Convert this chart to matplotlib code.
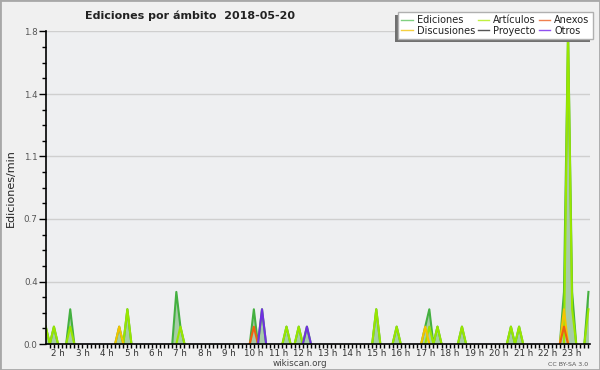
import matplotlib
matplotlib.use("Agg")
import matplotlib.pyplot as plt
import numpy as np
from matplotlib.patches import Rectangle
from matplotlib.ticker import MultipleLocator, FixedLocator

# 10-minute bins, values in edits/min (only non-zero bins listed)
bin_start = "01:30"
bin_end = "23:40"

ediciones = {"01:30": 0.1, "01:50": 0.1, "02:30": 0.2, "04:30": 0.1, "04:50": 0.2,
             "06:50": 0.3, "07:00": 0.1, "10:00": 0.2, "10:20": 0.2, "11:20": 0.1,
             "11:50": 0.1, "12:10": 0.1, "15:00": 0.2, "15:50": 0.1, "17:00": 0.1,
             "17:10": 0.2, "17:30": 0.1, "18:30": 0.1, "20:30": 0.1, "20:50": 0.1,
             "22:40": 0.3, "22:50": 1.8, "23:00": 0.3, "23:40": 0.3}
articulos = {"01:30": 0.1, "01:50": 0.1, "02:30": 0.1, "04:50": 0.2, "07:00": 0.1,
             "11:20": 0.1, "11:50": 0.1, "15:00": 0.2, "15:50": 0.1, "17:10": 0.1,
             "17:30": 0.1, "18:30": 0.1, "20:30": 0.1, "20:50": 0.1, "22:50": 1.8,
             "23:00": 0.2, "23:40": 0.2}
anexos = {"10:00": 0.1, "22:40": 0.1}
discusiones = {"04:30": 0.1, "17:00": 0.1, "22:40": 0.2}
proyecto = {}
otros = {"10:20": 0.2, "12:10": 0.1}

hour_labels = ["%d h" % h for h in range(2, 24)]


def to_hours(s):
    h, m = s.split(":")
    return int(h) + int(m) / 60.0


t = np.arange(to_hours(bin_start), to_hours(bin_end) + 1e-6, 1 / 6.0)


def series(d):
    vals = np.zeros(len(t))
    for k, v in d.items():
        vals[int(round((to_hours(k) - t[0]) * 6))] = v
    return vals


plt.rcParams['font.family'] = ['DejaVu Sans']
fig = plt.figure(figsize=(6, 3.7), dpi=100, facecolor='#f0f0f0')
fig.patches.append(Rectangle((0, 0), 1, 1, transform=fig.transFigure, fill=False,
                             edgecolor='#a8a8a8', linewidth=2))
ax = fig.add_axes([46 / 600, 26 / 370, 544 / 600, 312.5 / 370])
ax.set_facecolor('#eeeff1')

tot = series(ediciones)
ax.fill_between(t, 0, tot, color='#9fc99f', alpha=0.9, zorder=2, linewidth=0)

# name, data, line colour, legend colour, zorder
lines = [("Ediciones", ediciones, '#44b040', '#80d080', 3),
         ("Discusiones", discusiones, '#f5c400', '#f5d040', 5),
         ("Artículos", articulos, '#99e600', '#c0f040', 4),
         ("Proyecto", proyecto, '#555555', '#555555', 6),
         ("Anexos", anexos, '#f06010', '#f08050', 6),
         ("Otros", otros, '#7030e0', '#9050f0', 6)]
handles = {}
for name, d, c, lc, z in lines:
    v = series(d)
    if v.any():
        # draw only around non-zero bins
        mask = np.zeros(len(v), bool)
        for i in np.nonzero(v)[0]:
            mask[max(i - 1, 0):i + 2] = True
        vm = np.where(mask, v, np.nan)
        ax.plot(t, vm, color=c, lw=1.5, zorder=z)
    handles[name] = plt.Line2D([], [], color=lc, lw=1)

ax.set_xlim(1.51, 23.73)
ax.set_ylim(0, 1.8)
ax.yaxis.set_major_locator(FixedLocator([0, 0.36, 0.72, 1.08, 1.44, 1.8]))
ax.set_yticklabels(["0.0", "0.4", "0.7", "1.1", "1.4", "1.8"])
ax.yaxis.set_minor_locator(MultipleLocator(0.09))
ax.xaxis.set_major_locator(FixedLocator(list(range(2, 24))))
ax.set_xticklabels(hour_labels)
ax.xaxis.set_minor_locator(MultipleLocator(1 / 6.0))
ax.tick_params(axis='x', which='both', length=3, width=1, color='black',
               labelsize=6.3, labelcolor='#333333', pad=0.5)
ax.tick_params(axis='y', which='major', length=5, width=1, labelsize=6.3,
               labelcolor='#555555', pad=1)
ax.tick_params(axis='y', which='minor', length=3, width=1)
for s in ['top', 'right']:
    ax.spines[s].set_visible(False)
for s in ['left', 'bottom']:
    ax.spines[s].set_linewidth(1.2)
    ax.spines[s].set_zorder(10)
ax.grid(axis='y', which='major', color='#cfcfcf', linewidth=1, zorder=1)
ax.set_axisbelow(True)

ax.set_ylabel("Ediciones/min", fontsize=8, color='#222222')
ax.yaxis.set_label_coords(-0.055, 0.5)

fig.text(85 / 600, 1 - 19 / 370, "Ediciones por ámbito  2018-05-20", fontsize=8,
         fontweight='bold', color='#222222', ha='left', va='baseline')
fig.text(300 / 600, 1 - 366 / 370, "wikiscan.org", fontsize=6.3, color='#444444',
         ha='center', va='baseline')
fig.text(588 / 600, 1 - 366 / 370, "CC BY-SA 3.0", fontsize=4.5, color='#555555',
         ha='right', va='baseline')

leg_order = ["Ediciones", "Discusiones", "Artículos", "Proyecto", "Anexos", "Otros"]
leg = fig.legend([handles[n] for n in leg_order], leg_order, ncol=3, loc='upper right',
                 bbox_to_anchor=(593 / 600, 1 - 12 / 370), fontsize=7,
                 frameon=True, fancybox=False, framealpha=1, edgecolor='#b0b0b0',
                 handlelength=1.2, handletextpad=0.4, columnspacing=0.3,
                 labelspacing=0.05, borderpad=0.35, borderaxespad=0)
for txt in leg.get_texts():
    txt.set_color('#222222')
leg.set_zorder(20)
fig.canvas.draw()
bb = leg.get_window_extent().transformed(fig.transFigure.inverted())
fig.patches.append(Rectangle((bb.x0 - 3 / 600, bb.y0 - 3 / 370), bb.width, bb.height,
                             transform=fig.transFigure, facecolor='#707070',
                             edgecolor='none', zorder=15))

fig.savefig("out.png", dpi=100, facecolor=fig.get_facecolor())
